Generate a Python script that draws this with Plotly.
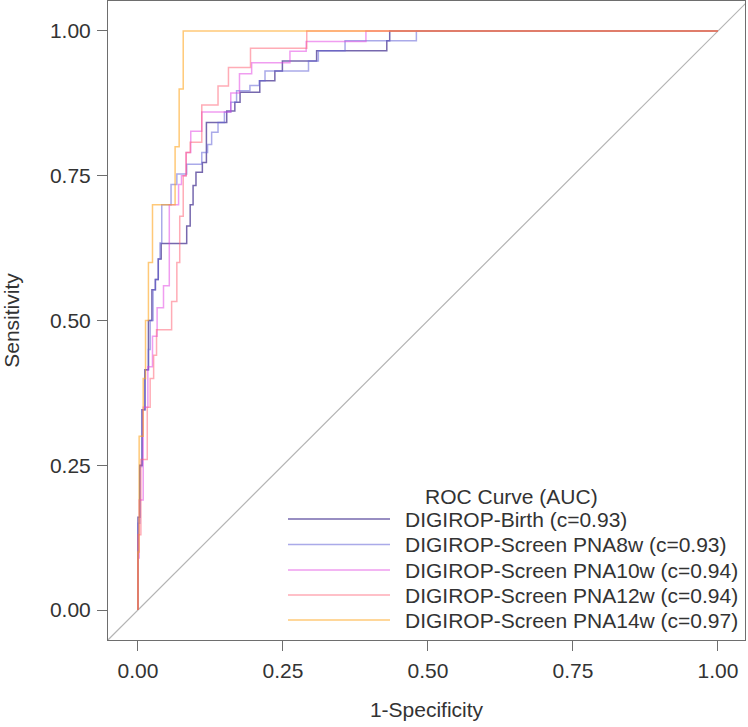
import plotly.graph_objects as go

# ---------------- data (ROC staircase corners: each point starts a vertical step) -------------
series_names = [
    "DIGIROP-Birth (c=0.93)",
    "DIGIROP-Screen PNA8w (c=0.93)",
    "DIGIROP-Screen PNA10w (c=0.94)",
    "DIGIROP-Screen PNA12w (c=0.94)",
    "DIGIROP-Screen PNA14w (c=0.97)",
]

birth_fpr = [0, 0.003, 0.007, 0.012, 0.018, 0.024, 0.030, 0.035, 0.040, 0.084,
             0.090, 0.095, 0.100, 0.111, 0.118, 0.153, 0.167, 0.176, 0.210, 0.236,
             0.249, 0.308, 0.429, 0.434, 1.0]
birth_tpr = [0, 0.16, 0.25, 0.346, 0.415, 0.50, 0.553, 0.571, 0.606, 0.633,
             0.663, 0.70, 0.733, 0.756, 0.773, 0.842, 0.862, 0.877, 0.894, 0.914,
             0.931, 0.948, 0.966, 0.983, 1.0]

pna8_fpr = [0, 0.003, 0.007, 0.012, 0.018, 0.021, 0.026, 0.030, 0.035, 0.038,
            0.041, 0.057, 0.067, 0.084, 0.110, 0.120, 0.127, 0.138, 0.149, 0.160,
            0.170, 0.193, 0.209, 0.219, 0.294, 0.311, 0.357, 0.480, 1.0]
pna8_tpr = [0, 0.15, 0.248, 0.346, 0.415, 0.45, 0.50, 0.553, 0.571, 0.606,
            0.634, 0.70, 0.735, 0.753, 0.77, 0.79, 0.804, 0.825, 0.842, 0.86,
            0.877, 0.897, 0.906, 0.914, 0.931, 0.948, 0.966, 0.983, 1.0]

pna10_fpr = [0, 0.002, 0.009, 0.017, 0.025, 0.033, 0.044, 0.054, 0.070, 0.075,
             0.083, 0.091, 0.110, 0.160, 0.175, 0.196, 0.262, 0.290, 0.393, 1.0]
pna10_tpr = [0, 0.09, 0.19, 0.35, 0.42, 0.473, 0.522, 0.56, 0.70, 0.735,
             0.75, 0.79, 0.827, 0.86, 0.893, 0.926, 0.945, 0.965, 0.982, 1.0]

pna12_fpr = [0, 0.005, 0.016, 0.021, 0.027, 0.032, 0.058, 0.067, 0.072, 0.078,
             0.083, 0.090, 0.110, 0.138, 0.156, 0.194, 0.291, 1.0]
pna12_tpr = [0, 0.13, 0.26, 0.35, 0.40, 0.44, 0.484, 0.533, 0.60, 0.68,
             0.75, 0.79, 0.808, 0.872, 0.905, 0.937, 0.97, 1.0]

pna14_fpr = [0, 0.002, 0.009, 0.013, 0.018, 0.025, 0.064, 0.071, 0.078, 1.0]
pna14_tpr = [0, 0.1, 0.3, 0.4, 0.5, 0.6, 0.7, 0.8, 0.9, 1.0]

ref_line = [-0.2, 1.2]
tick_vals = [0, 0.25, 0.5, 0.75, 1.0]
tick_text = ["0.00", "0.25", "0.50", "0.75", "1.00"]

# ---------------- styling ----------------
colors = [
    "rgba(60,40,140,0.70)",
    "rgba(100,100,215,0.55)",
    "rgba(225,60,225,0.50)",
    "rgba(255,90,110,0.50)",
    "rgba(255,165,30,0.60)",
]
FONT = "Arial, 'Liberation Sans', sans-serif"
FS = 21
TXT = "#333333"
W, H = 748, 727
ML, MR, MT, MB = 108, 3, 1, 87

fig = go.Figure()
fig.add_trace(go.Scatter(x=ref_line, y=ref_line, mode="lines",
                         line=dict(color="#b4b4b4", width=1.2),
                         showlegend=False, hoverinfo="skip"))

all_fpr = [birth_fpr, pna8_fpr, pna10_fpr, pna12_fpr, pna14_fpr]
all_tpr = [birth_tpr, pna8_tpr, pna10_tpr, pna12_tpr, pna14_tpr]
for name, fx, ty, col in zip(series_names, all_fpr, all_tpr, colors):
    fig.add_trace(go.Scatter(x=fx, y=ty, mode="lines", name=name,
                             line=dict(color=col, width=1.5, shape="vh"),
                             showlegend=False))

axis_common = dict(
    showgrid=False, zeroline=False, showline=True, mirror=True,
    linecolor="#6e6e6e", linewidth=1,
    ticks="outside", ticklen=10, tickcolor="#6e6e6e", tickwidth=1,
    tickvals=tick_vals, ticktext=tick_text,
    tickfont=dict(family=FONT, size=FS, color=TXT),
)

fig.update_layout(
    width=W, height=H,
    margin=dict(l=ML, r=MR, t=MT, b=MB),
    paper_bgcolor="white", plot_bgcolor="white",
    font=dict(family=FONT, size=FS, color=TXT),
    xaxis=dict(range=[-0.0517, 1.0466], ticklabelstandoff=2,
               title=dict(text="1-Specificity", font=dict(family=FONT, size=FS, color=TXT), standoff=21),
               **axis_common),
    yaxis=dict(range=[-0.0518, 1.0518], ticklabelstandoff=2,
               title=dict(text="Sensitivity", font=dict(family=FONT, size=FS, color=TXT), standoff=25),
               **axis_common),
    showlegend=False,
)

# ---------------- manual legend (long line samples like the original) ----------------
pw, ph = W - ML - MR, H - MT - MB

def px_x(px):
    return (px - ML) / pw

def px_y(py):
    return (H - MB - py) / ph

fig.add_annotation(x=px_x(423), y=px_y(496), xref="paper", yref="paper",
                   text="ROC Curve (AUC)", showarrow=False, xanchor="left", yanchor="middle",
                   font=dict(family=FONT, size=FS, color=TXT))
rows = [519, 544.5, 570, 595, 620]
for name, col, ry in zip(series_names, colors, rows):
    fig.add_shape(type="line", xref="paper", yref="paper",
                  x0=px_x(288), x1=px_x(390), y0=px_y(ry), y1=px_y(ry),
                  line=dict(color=col, width=1.5))
    fig.add_annotation(x=px_x(403), y=px_y(ry), xref="paper", yref="paper",
                       text=name, showarrow=False, xanchor="left", yanchor="middle",
                       font=dict(family=FONT, size=FS, color=TXT))

fig.write_html("out.html",
               config={"displayModeBar": False},
               post_script="document.body.style.margin='0';document.body.style.overflow='hidden';")
